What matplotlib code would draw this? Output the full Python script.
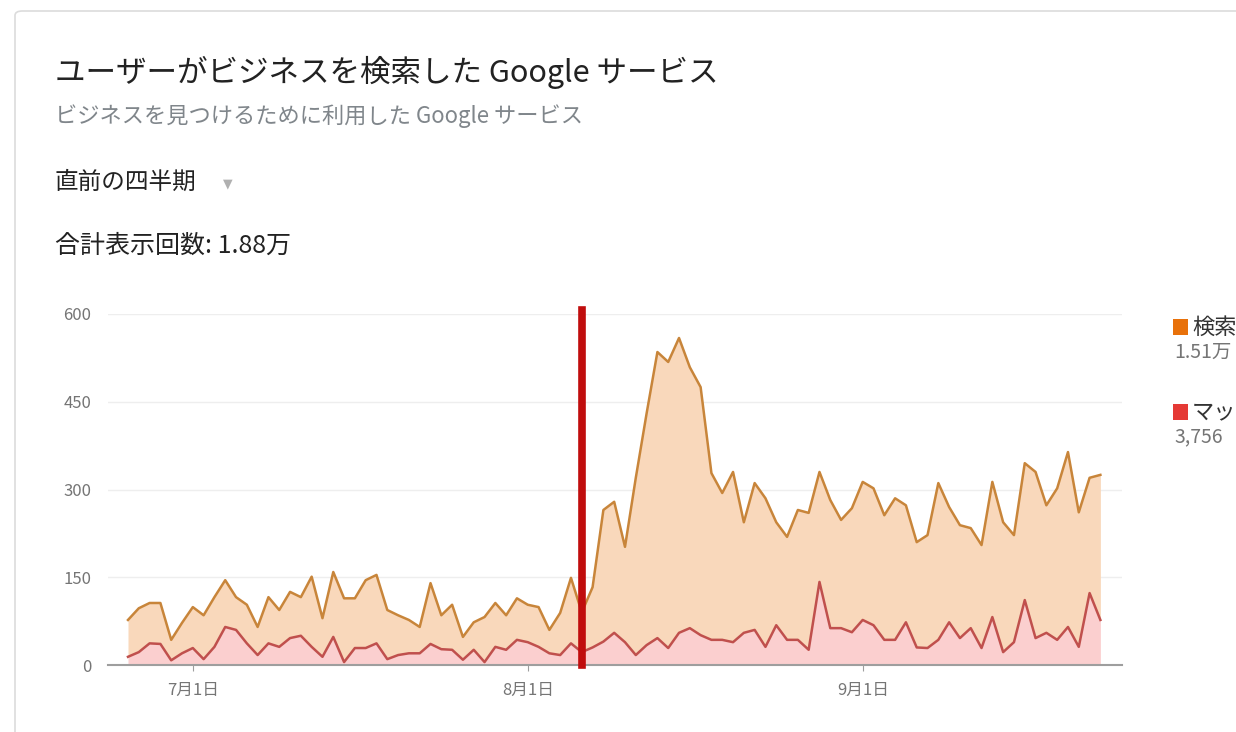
import matplotlib
matplotlib.use("Agg")
import matplotlib.pyplot as plt
from matplotlib.patches import FancyBboxPatch, Rectangle
import pandas as pd

plt.rcParams['font.family'] = ['Noto Sans CJK JP', 'DejaVu Sans']

# 日ごとの表示回数 (検索+マップの合計 と マップ)
days = pd.date_range('2019-06-25', periods=91, freq='D')
total_views = [77, 97, 106, 106, 43, 72, 99, 85, 116, 145,
               116, 103, 65, 116, 94, 125, 116, 151, 80, 159,
               114, 114, 145, 154, 94, 85, 77, 65, 140, 85,
               103, 48, 73, 82, 106, 85, 114, 103, 99, 60,
               89, 149, 90, 133, 265, 279, 202, 320, 430, 535,
               518, 559, 509, 475, 328, 294, 330, 244, 311, 285,
               244, 219, 265, 260, 330, 282, 248, 268, 313, 302,
               256, 285, 273, 210, 222, 311, 270, 239, 234, 205,
               313, 244, 222, 345, 330, 273, 302, 364, 261, 320, 325]
maps_views = [14, 22, 37, 36, 8, 20, 29, 10, 31, 65,
              60, 37, 17, 37, 31, 46, 50, 31, 14, 48,
              5, 29, 29, 37, 10, 17, 20, 20, 36, 27,
              26, 9, 26, 5, 31, 26, 43, 39, 31, 20,
              17, 37, 22, 30, 40, 55, 39, 17, 34, 46,
              29, 55, 63, 51, 43, 43, 39, 55, 60, 31,
              68, 43, 43, 26, 142, 63, 63, 56, 77, 68,
              43, 43, 73, 30, 29, 43, 73, 46, 63, 29,
              82, 22, 39, 111, 46, 55, 43, 65, 31, 123, 77]
marker_day = pd.Timestamp('2019-08-06')
tick_days = pd.to_datetime(['2019-07-01', '2019-08-01', '2019-09-01'])
tick_labels = ['7月1日', '8月1日', '9月1日']
y_ticks = [0, 150, 300, 450, 600]
legend_names = ['検索', 'マップ']
legend_values = ['1.51万', '3,756']
legend_colors = ['#e8710a', '#e53935']

W, H = 1236, 732
fig = plt.figure(figsize=(W / 100, H / 100), dpi=100)
fig.patch.set_facecolor('white')

def fx(px):
    return px / W

def fy(py):
    return 1 - py / H

# カードの枠
card = FancyBboxPatch((fx(15), fy(760)), 1.2, fy(11) - fy(760),
                      boxstyle="round,pad=0,rounding_size=0.006",
                      transform=fig.transFigure, facecolor='white',
                      edgecolor='#dcdcdc', linewidth=1.2, zorder=-5)
fig.patches.append(card)

fig.text(fx(55), fy(72), 'ユーザーがビジネスを検索した Google サービス',
         fontsize=22, color='#222222', va='center', ha='left')
fig.text(fx(55), fy(116), 'ビジネスを見つけるために利用した Google サービス',
         fontsize=16, color='#80868b', va='center', ha='left')
fig.text(fx(55), fy(182), '直前の四半期', fontsize=17, color='#222222',
         va='center', ha='left')
fig.text(fx(228), fy(184), '▼', fontsize=9, color='#b0b0b0',
         va='center', ha='center', family='DejaVu Sans')
fig.text(fx(55), fy(246), '合計表示回数: 1.88万', fontsize=18,
         color='#222222', va='center', ha='left')

ax = fig.add_axes([fx(108), fy(665), fx(1122) - fx(108), fy(314) - fy(665)])
ax.set_facecolor('none')
ax.fill_between(days, 0, maps_views, color='#fbcfcf', linewidth=0, zorder=1)
ax.fill_between(days, maps_views, total_views, color='#f9d8bb', linewidth=0, zorder=1)
ax.plot(days, total_views, color='#c8853a', linewidth=1.8, zorder=3)
ax.plot(days, maps_views, color='#c0504d', linewidth=1.8, zorder=3)

ax.axvline(marker_day, ymin=0, ymax=1.01, color='#c00d0d', linewidth=5.5,
           clip_on=False, zorder=5)

ax.set_ylim(0, 600)
ax.set_xlim(days[0] - pd.Timedelta(days=1.85), days[0] + pd.Timedelta(days=92))
ax.set_yticks(y_ticks)
ax.set_yticklabels([str(v) for v in y_ticks])
ax.set_xticks(tick_days)
ax.set_xticklabels(tick_labels)
ax.grid(axis='y', color='#eeeeee', linewidth=1)
ax.set_axisbelow(True)
for s in ['top', 'right', 'left']:
    ax.spines[s].set_visible(False)
ax.spines['bottom'].set_color('#9e9e9e')
ax.spines['bottom'].set_linewidth(1.5)
ax.tick_params(axis='y', length=0, pad=12, labelsize=12, labelcolor='#757575')
ax.tick_params(axis='x', length=4, color='#9e9e9e', pad=8, labelsize=12,
               labelcolor='#757575')

# 凡例 (右端で切れている)
for i, (name, val, col) in enumerate(zip(legend_names, legend_values, legend_colors)):
    yc = 327 + i * 85
    fig.patches.append(Rectangle((fx(1173), fy(yc + 8)), fx(15), fy(yc - 8) - fy(yc + 8),
                                 transform=fig.transFigure, facecolor=col,
                                 edgecolor='none'))
    fig.text(fx(1192), fy(yc), name, fontsize=16, color='#333333',
             va='center', ha='left')
    fig.text(fx(1174), fy(yc + 25), val, fontsize=14, color='#757575',
             va='center', ha='left')

fig.savefig('out.png', dpi=100)
